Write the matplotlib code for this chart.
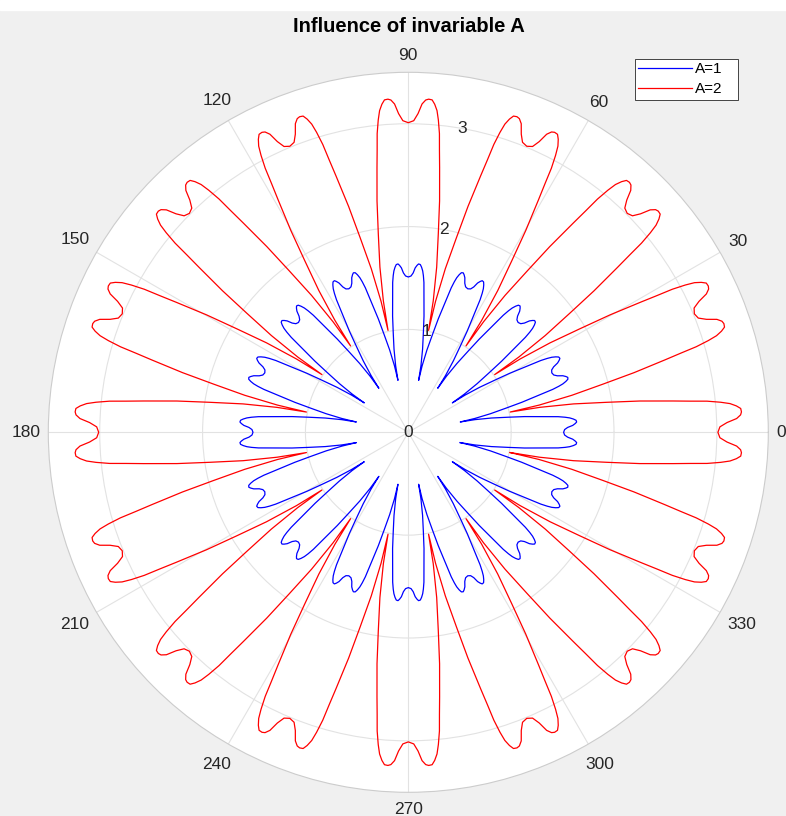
import numpy as np
import matplotlib.pyplot as plt
from matplotlib.patches import Rectangle

plt.rcParams['font.family'] = ['Liberation Sans', 'DejaVu Sans']

# half of one petal: angle from the petal axis (deg) and radius for each A
phi = [0.0, 1.0, 1.75, 2.4, 3.0, 3.5, 4.1, 4.6, 5.1, 5.5, 5.95, 6.3, 6.75,
       7.7, 8.6, 9.75, 10.75, 11.25]
rho_a1 = [1.51, 1.52, 1.55, 1.60, 1.625, 1.64, 1.635, 1.61, 1.575, 1.53,
          1.465, 1.385, 1.30, 1.14, 0.98, 0.82, 0.66, 0.515]
rho_a2 = [3.01, 3.03, 3.10, 3.195, 3.235, 3.245, 3.24, 3.20, 3.14, 3.05,
          2.92, 2.76, 2.59, 2.27, 1.95, 1.63, 1.30, 1.01]
n_petals = 16

labels = ['A=1', 'A=2']
colors = ['#0000ff', '#ff0000']
r_ticks = [0, 1, 2, 3]
r_max = 3.5
theta_ticks = list(range(0, 360, 30))
tick_size = 12.5


def rose(profile):
    half = np.array(phi)
    r = np.array(profile)
    th_petal = np.concatenate([-half[::-1], half[1:]])
    r_petal = np.concatenate([r[::-1], r[1:]])
    th = [th_petal + k * 360.0 / n_petals for k in range(n_petals)]
    rr = [r_petal] * n_petals
    th = np.concatenate(th + [th[0][:1]])
    rr = np.concatenate(rr + [r_petal[:1]])
    return np.deg2rad(th), rr


fig = plt.figure(figsize=(7.86, 8.16), dpi=100, facecolor='#f0f0f0')
fig.patches.append(Rectangle((0, 1 - 10 / 816), 1, 10 / 816,
                             transform=fig.transFigure, color='white', zorder=0))

ax = fig.add_axes([48.3 / 786, 23.7 / 816, 720 / 786, 720 / 816], projection='polar')
ax.set_facecolor('white')

for prof, lab, c in zip([rho_a1, rho_a2], labels, colors):
    th, r = rose(prof)
    ax.plot(th, r, color=c, lw=0.9, label=lab)

ax.set_rlim(0, r_max)
ax.set_rticks(r_ticks[1:])
ax.set_yticklabels([])
ax.set_thetagrids(theta_ticks, labels=[''] * len(theta_ticks))
ax.grid(color='#e2e2e2', lw=0.8)
ax.spines['polar'].set_color('#cccccc')
ax.spines['polar'].set_linewidth(0.8)

# angle labels sit a fixed gap outside the rim
for t in theta_ticks:
    lab = str(t)
    a = np.deg2rad(t)
    w = 9.7 * len(lab)
    d = 8 + abs(np.cos(a)) * w / 2 + abs(np.sin(a)) * 9
    ax.annotate(lab, xy=(a, r_max), xytext=(d * np.cos(a), d * np.sin(a)),
                textcoords='offset pixels', ha='center', va='center',
                fontsize=tick_size, color='#262626', annotation_clip=False)

for rt in r_ticks:
    ax.text(np.deg2rad(80), rt, str(rt), ha='center', va='center',
            fontsize=tick_size, color='#262626')

fig.text(408.5 / 786, 1 - 26 / 816, 'Influence of invariable A', ha='center',
         va='center', fontsize=14.5, fontweight='bold', color='#000000')

leg = ax.legend(loc='upper left', bbox_to_anchor=(635 / 786, 0, 103 / 786, 1 - 59 / 816),
                bbox_transform=fig.transFigure, mode='expand', fancybox=False,
                edgecolor='#262626', framealpha=1, fontsize=11,
                handlelength=3.5, borderpad=0.2, labelspacing=0.42,
                handletextpad=0.2, borderaxespad=0)
leg.get_frame().set_linewidth(0.6)

fig.savefig('out.png', dpi=100, facecolor=fig.get_facecolor())
